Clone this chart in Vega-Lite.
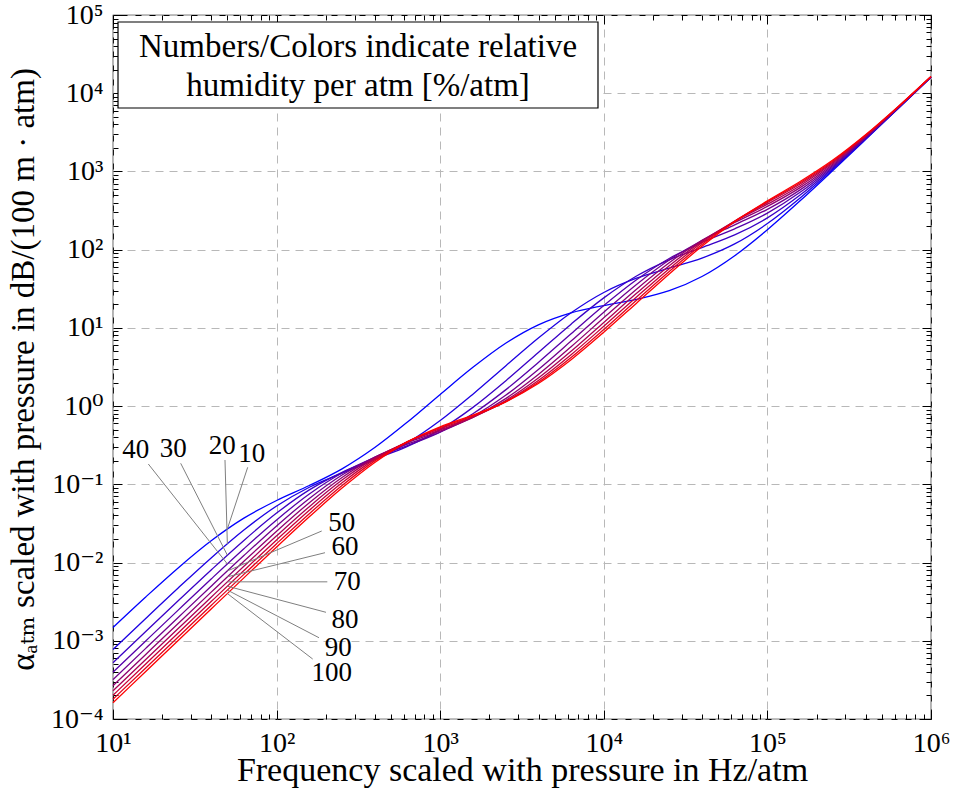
{
"$schema": "https://vega.github.io/schema/vega-lite/v6.json",
"width": 818, "height": 704,
"autosize": {"type": "none"},
"padding": {"left": 113, "top": 15, "right": 22, "bottom": 73},
"background": "white",
"config": {"font": "Liberation Serif, DejaVu Serif, serif", "view": {"stroke": "#000", "strokeWidth": 1.2},
  "axis": {"labelFont": "Liberation Serif, DejaVu Serif, serif", "titleFont": "Liberation Serif, DejaVu Serif, serif", "labelColor": "#000", "titleColor": "#000", "titleFontWeight": "normal"}},
"resolve": {"axis": {"x": "independent", "y": "independent"}},
"datasets": {
"curves": [
{"h":10,"f":10,"a":0.001482},{"h":10,"f":15.85,"a":0.003633},{"h":10,"f":25.12,"a":0.008609},{"h":10,"f":39.81,"a":0.01899},{"h":10,"f":63.1,"a":0.03697},{"h":10,"f":100,"a":0.06217},{"h":10,"f":158.5,"a":0.09654},{"h":10,"f":251.2,"a":0.1577},{"h":10,"f":398.1,"a":0.2952},{"h":10,"f":631,"a":0.6259},{"h":10,"f":1000,"a":1.409},{"h":10,"f":1585,"a":3.129},{"h":10,"f":2512,"a":6.353},{"h":10,"f":3981,"a":10.93},{"h":10,"f":6310,"a":15.55},{"h":10,"f":10000,"a":19.32},{"h":10,"f":15850,"a":23.17},{"h":10,"f":25120,"a":29.88},{"h":10,"f":39810,"a":45.39},{"h":10,"f":63100,"a":83.8},{"h":10,"f":100000,"a":180.0},{"h":10,"f":158500,"a":421.7},{"h":10,"f":251200,"a":1029},{"h":10,"f":398100,"a":2553},{"h":10,"f":631000,"a":6383},{"h":10,"f":1000000,"a":16002},
{"h":20,"f":10,"a":0.0007749},{"h":20,"f":15.85,"a":0.001932},{"h":20,"f":25.12,"a":0.004766},{"h":20,"f":39.81,"a":0.01146},{"h":20,"f":63.1,"a":0.02601},{"h":20,"f":100,"a":0.05289},{"h":20,"f":158.5,"a":0.09189},{"h":20,"f":251.2,"a":0.1394},{"h":20,"f":398.1,"a":0.2063},{"h":20,"f":631,"a":0.3394},{"h":20,"f":1000,"a":0.6535},{"h":20,"f":1585,"a":1.421},{"h":20,"f":2512,"a":3.26},{"h":20,"f":3981,"a":7.41},{"h":20,"f":6310,"a":15.61},{"h":20,"f":10000,"a":28.38},{"h":20,"f":15850,"a":43.15},{"h":20,"f":25120,"a":58.06},{"h":20,"f":39810,"a":78.05},{"h":20,"f":63100,"a":118.5},{"h":20,"f":100000,"a":215.6},{"h":20,"f":158500,"a":457.6},{"h":20,"f":251200,"a":1065},{"h":20,"f":398100,"a":2589},{"h":20,"f":631000,"a":6419},{"h":20,"f":1000000,"a":16038},
{"h":30,"f":10,"a":0.0005245},{"h":30,"f":15.85,"a":0.001313},{"h":30,"f":25.12,"a":0.00327},{"h":30,"f":39.81,"a":0.00804},{"h":30,"f":63.1,"a":0.01919},{"h":30,"f":100,"a":0.04288},{"h":30,"f":158.5,"a":0.08487},{"h":30,"f":251.2,"a":0.1425},{"h":30,"f":398.1,"a":0.21},{"h":30,"f":631,"a":0.3061},{"h":30,"f":1000,"a":0.5006},{"h":30,"f":1585,"a":0.9635},{"h":30,"f":2512,"a":2.1},{"h":30,"f":3981,"a":4.847},{"h":30,"f":6310,"a":11.17},{"h":30,"f":10000,"a":24.19},{"h":30,"f":15850,"a":46.04},{"h":30,"f":25120,"a":74.18},{"h":30,"f":39810,"a":106.4},{"h":30,"f":63100,"a":154.3},{"h":30,"f":100000,"a":255.0},{"h":30,"f":158500,"a":498.5},{"h":30,"f":251200,"a":1106},{"h":30,"f":398100,"a":2631},{"h":30,"f":631000,"a":6461},{"h":30,"f":1000000,"a":16080},
{"h":40,"f":10,"a":0.0003965},{"h":40,"f":15.85,"a":0.000994},{"h":40,"f":25.12,"a":0.002484},{"h":40,"f":39.81,"a":0.006163},{"h":40,"f":63.1,"a":0.01502},{"h":40,"f":100,"a":0.03509},{"h":40,"f":158.5,"a":0.07519},{"h":40,"f":251.2,"a":0.1394},{"h":40,"f":398.1,"a":0.219},{"h":40,"f":631,"a":0.3131},{"h":40,"f":1000,"a":0.4654},{"h":40,"f":1585,"a":0.8},{"h":40,"f":2512,"a":1.613},{"h":40,"f":3981,"a":3.612},{"h":40,"f":6310,"a":8.423},{"h":40,"f":10000,"a":19.36},{"h":40,"f":15850,"a":41.36},{"h":40,"f":25120,"a":77.23},{"h":40,"f":39810,"a":124.0},{"h":40,"f":63100,"a":184.9},{"h":40,"f":100000,"a":293.4},{"h":40,"f":158500,"a":540.6},{"h":40,"f":251200,"a":1150},{"h":40,"f":398100,"a":2675},{"h":40,"f":631000,"a":6505},{"h":40,"f":1000000,"a":16125},
{"h":50,"f":10,"a":0.0003188},{"h":50,"f":15.85,"a":0.0007998},{"h":50,"f":25.12,"a":0.002002},{"h":50,"f":39.81,"a":0.004989},{"h":50,"f":63.1,"a":0.01228},{"h":50,"f":100,"a":0.02939},{"h":50,"f":158.5,"a":0.06604},{"h":50,"f":251.2,"a":0.1318},{"h":50,"f":398.1,"a":0.2229},{"h":50,"f":631,"a":0.3272},{"h":50,"f":1000,"a":0.4665},{"h":50,"f":1585,"a":0.7369},{"h":50,"f":2512,"a":1.374},{"h":50,"f":3981,"a":2.942},{"h":50,"f":6310,"a":6.782},{"h":50,"f":10000,"a":15.89},{"h":50,"f":15850,"a":35.88},{"h":50,"f":25120,"a":73.66},{"h":50,"f":39810,"a":131.1},{"h":50,"f":63100,"a":207.7},{"h":50,"f":100000,"a":328.1},{"h":50,"f":158500,"a":581.8},{"h":50,"f":251200,"a":1194},{"h":50,"f":398100,"a":2721},{"h":50,"f":631000,"a":6551},{"h":50,"f":1000000,"a":16171},
{"h":60,"f":10,"a":0.0002667},{"h":60,"f":15.85,"a":0.0006692},{"h":60,"f":25.12,"a":0.001677},{"h":60,"f":39.81,"a":0.004188},{"h":60,"f":63.1,"a":0.01037},{"h":60,"f":100,"a":0.02517},{"h":60,"f":158.5,"a":0.05826},{"h":60,"f":251.2,"a":0.1226},{"h":60,"f":398.1,"a":0.2214},{"h":60,"f":631,"a":0.3396},{"h":60,"f":1000,"a":0.4804},{"h":60,"f":1585,"a":0.7172},{"h":60,"f":2512,"a":1.248},{"h":60,"f":3981,"a":2.544},{"h":60,"f":6310,"a":5.739},{"h":60,"f":10000,"a":13.47},{"h":60,"f":15850,"a":31.26},{"h":60,"f":25120,"a":68.03},{"h":60,"f":39810,"a":131.4},{"h":60,"f":63100,"a":222.3},{"h":60,"f":100000,"a":357.6},{"h":60,"f":158500,"a":620.8},{"h":60,"f":251200,"a":1238},{"h":60,"f":398100,"a":2767},{"h":60,"f":631000,"a":6598},{"h":60,"f":1000000,"a":16218},
{"h":70,"f":10,"a":0.0002292},{"h":70,"f":15.85,"a":0.0005754},{"h":70,"f":25.12,"a":0.001443},{"h":70,"f":39.81,"a":0.003609},{"h":70,"f":63.1,"a":0.008971},{"h":70,"f":100,"a":0.02195},{"h":70,"f":158.5,"a":0.05183},{"h":70,"f":251.2,"a":0.1133},{"h":70,"f":398.1,"a":0.2161},{"h":70,"f":631,"a":0.3479},{"h":70,"f":1000,"a":0.4979},{"h":70,"f":1585,"a":0.7185},{"h":70,"f":2512,"a":1.18},{"h":70,"f":3981,"a":2.291},{"h":70,"f":6310,"a":5.036},{"h":70,"f":10000,"a":11.75},{"h":70,"f":15850,"a":27.63},{"h":70,"f":25120,"a":62.31},{"h":70,"f":39810,"a":127.7},{"h":70,"f":63100,"a":230.0},{"h":70,"f":100000,"a":381.5},{"h":70,"f":158500,"a":656.9},{"h":70,"f":251200,"a":1280},{"h":70,"f":398100,"a":2812},{"h":70,"f":631000,"a":6645},{"h":70,"f":1000000,"a":16265},
{"h":80,"f":10,"a":0.0002011},{"h":80,"f":15.85,"a":0.0005048},{"h":80,"f":25.12,"a":0.001266},{"h":80,"f":39.81,"a":0.00317},{"h":80,"f":63.1,"a":0.0079},{"h":80,"f":100,"a":0.01945},{"h":80,"f":158.5,"a":0.04652},{"h":80,"f":251.2,"a":0.1045},{"h":80,"f":398.1,"a":0.2084},{"h":80,"f":631,"a":0.3519},{"h":80,"f":1000,"a":0.5151},{"h":80,"f":1585,"a":0.7307},{"h":80,"f":2512,"a":1.147},{"h":80,"f":3981,"a":2.126},{"h":80,"f":6310,"a":4.541},{"h":80,"f":10000,"a":10.49},{"h":80,"f":15850,"a":24.78},{"h":80,"f":25120,"a":57.16},{"h":80,"f":39810,"a":122.3},{"h":80,"f":63100,"a":232.5},{"h":80,"f":100000,"a":399.6},{"h":80,"f":158500,"a":689.6},{"h":80,"f":251200,"a":1322},{"h":80,"f":398100,"a":2858},{"h":80,"f":631000,"a":6692},{"h":80,"f":1000000,"a":16313},
{"h":90,"f":10,"a":0.0001791},{"h":90,"f":15.85,"a":0.0004497},{"h":90,"f":25.12,"a":0.001128},{"h":90,"f":39.81,"a":0.002827},{"h":90,"f":63.1,"a":0.007056},{"h":90,"f":100,"a":0.01744},{"h":90,"f":158.5,"a":0.04212},{"h":90,"f":251.2,"a":0.09657},{"h":90,"f":398.1,"a":0.1996},{"h":90,"f":631,"a":0.3521},{"h":90,"f":1000,"a":0.5301},{"h":90,"f":1585,"a":0.7483},{"h":90,"f":2512,"a":1.134},{"h":90,"f":3981,"a":2.016},{"h":90,"f":6310,"a":4.181},{"h":90,"f":10000,"a":9.532},{"h":90,"f":15850,"a":22.53},{"h":90,"f":25120,"a":52.7},{"h":90,"f":39810,"a":116.4},{"h":90,"f":63100,"a":231.3},{"h":90,"f":100000,"a":412.6},{"h":90,"f":158500,"a":718.3},{"h":90,"f":251200,"a":1361},{"h":90,"f":398100,"a":2902},{"h":90,"f":631000,"a":6739},{"h":90,"f":1000000,"a":16361},
{"h":100,"f":10,"a":0.0001615},{"h":100,"f":15.85,"a":0.0004055},{"h":100,"f":25.12,"a":0.001018},{"h":100,"f":39.81,"a":0.002551},{"h":100,"f":63.1,"a":0.006375},{"h":100,"f":100,"a":0.0158},{"h":100,"f":158.5,"a":0.03844},{"h":100,"f":251.2,"a":0.0895},{"h":100,"f":398.1,"a":0.1904},{"h":100,"f":631,"a":0.3492},{"h":100,"f":1000,"a":0.5423},{"h":100,"f":1585,"a":0.7681},{"h":100,"f":2512,"a":1.135},{"h":100,"f":3981,"a":1.943},{"h":100,"f":6310,"a":3.913},{"h":100,"f":10000,"a":8.79},{"h":100,"f":15850,"a":20.72},{"h":100,"f":25120,"a":48.9},{"h":100,"f":39810,"a":110.5},{"h":100,"f":63100,"a":227.8},{"h":100,"f":100000,"a":421.0},{"h":100,"f":158500,"a":743.2},{"h":100,"f":251200,"a":1398},{"h":100,"f":398100,"a":2946},{"h":100,"f":631000,"a":6785},{"h":100,"f":1000000,"a":16408}
],
"leaders": [
{"h":10,"lx":70.43,"ly":0.2441,"sx":66.58,"sy":0.1651,"ex":50,"ey":0.0269},
{"h":20,"lx":46.57,"ly":0.309,"sx":48.37,"sy":0.2047,"ex":50,"ey":0.01736},
{"h":30,"lx":23.37,"ly":0.2804,"sx":25.93,"sy":0.1857,"ex":50,"ey":0.01243},
{"h":40,"lx":13.76,"ly":0.2746,"sx":16.44,"sy":0.1819,"ex":50,"ey":0.009608},
{"h":50,"lx":249.9,"ly":0.03175,"sx":188.7,"sy":0.0253,"ex":50,"ey":0.007809},
{"h":60,"lx":261.8,"ly":0.01594,"sx":197.6,"sy":0.01336,"ex":50,"ey":0.006572},
{"h":70,"lx":270.4,"ly":0.00567,"sx":204.2,"sy":0.00567,"ex":50,"ey":0.00567},
{"h":80,"lx":261.8,"ly":0.001842,"sx":200.4,"sy":0.002312,"ex":50,"ey":0.004986},
{"h":90,"lx":238.4,"ly":0.0008011,"sx":181.6,"sy":0.001094,"ex":50,"ey":0.004448},
{"h":100,"lx":217.3,"ly":0.0003837,"sx":166.2,"sy":0.0005845,"ex":50,"ey":0.004016}
],
"box": [
{"x1":10.73,"x2":9215,"y1":81400,"y2":6471,"tx":314.5,"ty":38990,"t":"Numbers/Colors indicate relative\nhumidity per atm [%/atm]"}
]
},
"layer": [
{"data": {"name": "curves"},
 "mark": {"type": "line", "interpolate": "monotone", "strokeWidth": 1.3},
 "encoding": {
  "x": {"field": "f", "type": "quantitative", "scale": {"type": "log", "domain": [10, 1000000], "nice": false},
    "axis": {"orient": "bottom", "values": [10, 100, 1000, 10000, 100000, 1000000],
      "labelExpr": "'10' + ['⁰','¹','²','³','⁴','⁵','⁶'][round(log(datum.value)/LN10)]",
      "labelFontSize": 28, "labelBaseline": "alphabetic", "labelPadding": 32, "labelFlush": false, "labelOverlap": false,
      "ticks": false, "domain": false, "grid": true, "gridColor": "#b8b8b8", "gridDash": [8, 6], "gridWidth": 1,
      "title": "Frequency scaled with pressure in Hz/atm", "titleFontSize": 34, "titleBaseline": "alphabetic", "titleY": 61}},
  "y": {"field": "a", "type": "quantitative", "scale": {"type": "log", "domain": [0.0001, 100000], "nice": false},
    "axis": {"orient": "left", "values": [0.0001, 0.001, 0.01, 0.1, 1, 10, 100, 1000, 10000, 100000],
      "labelExpr": "'10' + ['⁻⁴','⁻³','⁻²','⁻¹','⁰','¹','²','³','⁴','⁵'][round(log(datum.value)/LN10)+4]",
      "labelFontSize": 28, "labelBaseline": "middle", "labelPadding": 10, "labelFlush": false, "labelOverlap": false,
      "ticks": false, "domain": false, "grid": true, "gridColor": "#b8b8b8", "gridDash": [8, 6], "gridWidth": 1,
      "title": "αₐₜₘ scaled with pressure in dB/(100 m · atm)", "titleFontSize": 33, "titleAngle": 270,
      "titleBaseline": "alphabetic", "titleX": -80, "titleY": 354}},
  "color": {"field": "h", "type": "quantitative", "scale": {"domain": [10, 100], "range": ["#0000ff", "#ff0000"], "interpolate": "rgb"}, "legend": null},
  "detail": {"field": "h", "type": "nominal"}
 }},
{"data": {"name": "leaders"},
 "mark": {"type": "rule", "color": "#7f7f7f", "strokeWidth": 1},
 "encoding": {
  "x": {"field": "sx", "type": "quantitative", "scale": {"type": "log", "domain": [10, 1000000], "nice": false},
    "axis": {"orient": "bottom", "values": [20,30,40,50,60,70,80,90,200,300,400,500,600,700,800,900,2000,3000,4000,5000,6000,7000,8000,9000,20000,30000,40000,50000,60000,70000,80000,90000,200000,300000,400000,500000,600000,700000,800000,900000],
      "labels": false, "ticks": true, "tickSize": -5, "tickColor": "#000", "tickWidth": 1, "grid": false, "domain": false, "title": null}},
  "y": {"field": "sy", "type": "quantitative", "scale": {"type": "log", "domain": [0.0001, 100000], "nice": false},
    "axis": {"orient": "left", "values": [0.0002,0.0003,0.0004,0.0005,0.0006,0.0007,0.0008,0.0009,0.002,0.003,0.004,0.005,0.006,0.007,0.008,0.009,0.02,0.03,0.04,0.05,0.06,0.07,0.08,0.09,0.2,0.3,0.4,0.5,0.6,0.7,0.8,0.9,2,3,4,5,6,7,8,9,20,30,40,50,60,70,80,90,200,300,400,500,600,700,800,900,2000,3000,4000,5000,6000,7000,8000,9000,20000,30000,40000,50000,60000,70000,80000,90000],
      "labels": false, "ticks": true, "tickSize": -5, "tickColor": "#000", "tickWidth": 1, "grid": false, "domain": false, "title": null}},
  "x2": {"field": "ex"},
  "y2": {"field": "ey"}
 }},
{"data": {"name": "leaders"},
 "mark": {"type": "text", "fontSize": 27, "align": "center", "baseline": "middle", "color": "#000", "font": "Liberation Serif, DejaVu Serif, serif"},
 "encoding": {
  "x": {"field": "lx", "type": "quantitative", "scale": {"type": "log", "domain": [10, 1000000], "nice": false},
    "axis": {"orient": "top", "values": [10, 100, 1000, 10000, 100000, 1000000],
      "labels": false, "ticks": true, "tickSize": -9, "tickColor": "#000", "tickWidth": 1, "grid": false, "domain": false, "title": null}},
  "y": {"field": "ly", "type": "quantitative", "scale": {"type": "log", "domain": [0.0001, 100000], "nice": false},
    "axis": {"orient": "right", "values": [0.0001, 0.001, 0.01, 0.1, 1, 10, 100, 1000, 10000, 100000],
      "labels": false, "ticks": true, "tickSize": -9, "tickColor": "#000", "tickWidth": 1, "grid": false, "domain": false, "title": null}},
  "text": {"field": "h", "type": "quantitative"}
 }},
{"data": {"name": "box"},
 "mark": {"type": "rect", "fill": "white", "stroke": "#000", "strokeWidth": 1.2},
 "encoding": {
  "x": {"field": "x1", "type": "quantitative", "scale": {"type": "log", "domain": [10, 1000000], "nice": false},
    "axis": {"orient": "top", "values": [20,30,40,50,60,70,80,90,200,300,400,500,600,700,800,900,2000,3000,4000,5000,6000,7000,8000,9000,20000,30000,40000,50000,60000,70000,80000,90000,200000,300000,400000,500000,600000,700000,800000,900000],
      "labels": false, "ticks": true, "tickSize": -5, "tickColor": "#000", "tickWidth": 1, "grid": false, "domain": false, "title": null}},
  "x2": {"field": "x2"},
  "y": {"field": "y1", "type": "quantitative", "scale": {"type": "log", "domain": [0.0001, 100000], "nice": false},
    "axis": {"orient": "right", "values": [0.0002,0.0003,0.0004,0.0005,0.0006,0.0007,0.0008,0.0009,0.002,0.003,0.004,0.005,0.006,0.007,0.008,0.009,0.02,0.03,0.04,0.05,0.06,0.07,0.08,0.09,0.2,0.3,0.4,0.5,0.6,0.7,0.8,0.9,2,3,4,5,6,7,8,9,20,30,40,50,60,70,80,90,200,300,400,500,600,700,800,900,2000,3000,4000,5000,6000,7000,8000,9000,20000,30000,40000,50000,60000,70000,80000,90000],
      "labels": false, "ticks": true, "tickSize": -5, "tickColor": "#000", "tickWidth": 1, "grid": false, "domain": false, "title": null}},
  "y2": {"field": "y2"}
 }},
{"data": {"name": "box"},
 "mark": {"type": "text", "fontSize": 33, "align": "center", "baseline": "middle", "lineBreak": "\n", "lineHeight": 39, "color": "#000", "font": "Liberation Serif, DejaVu Serif, serif"},
 "encoding": {
  "x": {"field": "tx", "type": "quantitative", "scale": {"type": "log", "domain": [10, 1000000], "nice": false},
    "axis": {"orient": "bottom", "values": [10, 100, 1000, 10000, 100000, 1000000],
      "labels": false, "ticks": true, "tickSize": -9, "tickColor": "#000", "tickWidth": 1, "grid": false, "domain": false, "title": null}},
  "y": {"field": "ty", "type": "quantitative", "scale": {"type": "log", "domain": [0.0001, 100000], "nice": false},
    "axis": {"orient": "left", "values": [0.0001, 0.001, 0.01, 0.1, 1, 10, 100, 1000, 10000, 100000],
      "labels": false, "ticks": true, "tickSize": -9, "tickColor": "#000", "tickWidth": 1, "grid": false, "domain": false, "title": null}},
  "text": {"field": "t", "type": "nominal"}
 }}
]
}
